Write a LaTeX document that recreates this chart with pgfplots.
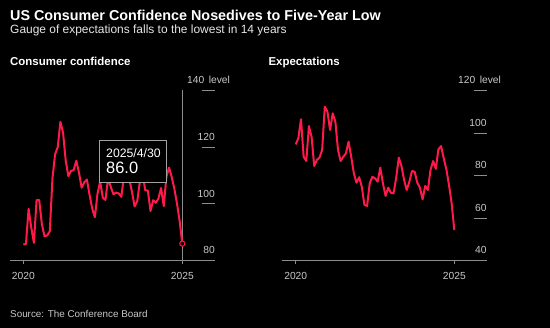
\documentclass[border=0pt]{standalone}
\usepackage{pgfplots}
\pgfplotsset{compat=1.18}
\usepackage{fontspec}
\setmainfont{Liberation Sans}
\definecolor{linered}{HTML}{FF1A4A}
\definecolor{axisgray}{HTML}{8C8C8C}
\definecolor{ticktext}{HTML}{C8C8C8}
\definecolor{subtext}{HTML}{E6E6E6}
\pgfplotsset{
  panel/.style={
    scale only axis, width=205bp, height=170.4bp,
    axis x line=bottom, axis y line=none,
    x axis line style={-, draw=axisgray, line width=0.8bp},
    xtick={0,60}, xticklabels={2020,2025},
    tick align=outside, major tick length=3bp,
    x tick style={draw=axisgray, line width=0.8bp},
    xticklabel style={text=ticktext, font=\fontsize{10.3}{12}\selectfont, anchor=base, yshift=-15.5bp},
    ytick=\empty, clip=false,
  },
}
\tikzset{
  redline/.style={linered, line width=2bp, line join=round},
  lab/.style={anchor=base east, inner sep=0pt, text=ticktext, font=\fontsize{10.3}{12}\selectfont},
}
\begin{document}
\begin{tikzpicture}
\fill[black] (0bp,0bp) rectangle (550bp,328bp);
\node[anchor=base west, inner sep=0pt, text=white, font=\fontsize{14.4}{17}\selectfont\bfseries] at (10bp,307.3bp) {US Consumer Confidence Nosedives to Five-Year Low};
\node[anchor=base west, inner sep=0pt, text=subtext, font=\fontsize{12}{14}\selectfont] at (10bp,294.7bp) {Gauge of expectations falls to the lowest in 14 years};
\node[anchor=base west, inner sep=0pt, text=white, font=\fontsize{11.5}{13}\selectfont\bfseries] at (10bp,262.3bp) {Consumer confidence};
\node[anchor=base west, inner sep=0pt, text=white, font=\fontsize{11.5}{13}\selectfont\bfseries] at (268.3bp,262.3bp) {Expectations};
\node[anchor=base west, inner sep=0pt, text=ticktext, font=\fontsize{9.9}{12}\selectfont] at (10bp,11bp) {Source: The Conference Board};

% Left panel: Consumer confidence
\begin{axis}[panel, at={(10bp,67.3bp)}, anchor=south west,
  xmin=-5.02, xmax=72.34, ymin=80, ymax=140]
  \draw[axisgray, line width=0.8bp] (axis cs:60,80) -- (axis cs:60,140);
  \draw[axisgray, line width=0.8bp] (axis cs:67.3,100) -- (axis cs:72.34,100);
  \draw[axisgray, line width=0.8bp] (axis cs:67.3,120) -- (axis cs:72.34,120);
  \draw[axisgray, line width=0.8bp] (axis cs:67.3,140) -- (axis cs:72.34,140);
  \node[lab] at ([yshift=6.8bp]axis cs:72.34,80) {80};
  \node[lab] at ([yshift=6.8bp]axis cs:72.34,100) {100};
  \node[lab] at ([yshift=6.8bp]axis cs:72.34,120) {120};
  \node[lab, anchor=base west] at ([xshift=-28bp, yshift=7bp]axis cs:72.34,140) {140\hspace{4.5bp}level};
  \addplot[redline] coordinates {
    (0,85.7) (1,85.9) (2,98.3) (3,91.7) (4,86.3) (5,101.3) (6,101.4) (7,92.9) (8,88.6)
    (9,88.9) (10,90.4) (11,109.0) (12,117.5) (13,120.0) (14,128.9) (15,125.1) (16,115.2) (17,109.8) (18,111.6) (19,111.9) (20,115.2)
    (21,111.1) (22,105.7) (23,107.6) (24,108.6) (25,103.2) (26,98.4) (27,95.3) (28,103.6) (29,107.8) (30,102.2) (31,101.4) (32,109.0)
    (33,106.0) (34,103.4) (35,104.0) (36,103.7) (37,102.5) (38,110.1) (39,114.0) (40,108.7) (41,104.3) (42,99.1) (43,101.0) (44,108.0)
    (45,110.9) (46,104.8) (47,104.7) (48,97.5) (49,101.3) (50,100.4) (51,101.9) (52,105.6) (53,99.2) (54,109.6) (55,112.8) (56,109.5)
    (57,105.3) (58,100.1) (59,93.9) (60,86.0)
  };
  \addplot[only marks, mark=*, mark size=2.6bp, mark options={draw=linered, fill=black, line width=1bp}] coordinates {(60,86.0)};
\end{axis}

% Right panel: Expectations
\begin{axis}[panel, at={(281.7bp,67.3bp)}, anchor=south west,
  xmin=-5.3, xmax=72.26, ymin=40, ymax=120]
  \draw[axisgray, line width=0.8bp] (axis cs:67.45,60) -- (axis cs:72.26,60);
  \draw[axisgray, line width=0.8bp] (axis cs:67.45,80) -- (axis cs:72.26,80);
  \draw[axisgray, line width=0.8bp] (axis cs:67.45,100) -- (axis cs:72.26,100);
  \draw[axisgray, line width=0.8bp] (axis cs:67.45,120) -- (axis cs:72.26,120);
  \node[lab] at ([yshift=6.8bp]axis cs:72.26,40) {40};
  \node[lab] at ([yshift=6.8bp]axis cs:72.26,60) {60};
  \node[lab] at ([yshift=6.8bp]axis cs:72.26,80) {80};
  \node[lab] at ([yshift=6.8bp]axis cs:72.26,100) {100};
  \node[lab, anchor=base west] at ([xshift=-28.7bp, yshift=7bp]axis cs:72.26,120) {120\hspace{4.5bp}level};
  \addplot[redline] coordinates {
    (0,94.6) (1,97.5) (2,106.4) (3,88.8) (4,86.8) (5,103.2) (6,98.2) (7,84.5) (8,87.3) (9,88.4)
    (10,92.0) (11,112.3) (12,110.0) (13,101.4) (14,109.2) (15,105.3) (16,92.0) (17,86.8) (18,88.8) (19,90.4)
    (20,95.9) (21,88.8) (22,81.0) (23,76.6) (24,79.2) (25,74.7) (26,66.2) (27,65.7) (28,76.3) (29,79.4)
    (30,78.7) (31,77.1) (32,83.7) (33,76.3) (34,70.4) (35,74.3) (36,71.9) (37,71.6) (38,78.7) (39,88.4)
    (40,84.5) (41,77.9) (42,73.2) (43,77.1) (44,82.1) (45,81.8) (46,76.6) (47,74.3) (48,68.8) (49,75.1)
    (50,73.2) (51,82.6) (52,86.8) (53,83.1) (54,92.3) (55,93.8) (56,88.1) (57,82.9) (58,75.5) (59,66.9)
    (60,54.4)
  };
\end{axis}

% Tooltip
\draw[draw=axisgray!80!white, fill=black, line width=0.8bp] (99.7bp,145.7bp) rectangle (166.3bp,187.7bp);
\node[anchor=base west, inner sep=0pt, text=white, font=\fontsize{12.3}{14}\selectfont] at (106bp,170.7bp) {2025/4/30};
\node[anchor=base west, inner sep=0pt, text=white, font=\fontsize{16.5}{19}\selectfont] at (106bp,154.7bp) {86.0};
\end{tikzpicture}
\end{document}
